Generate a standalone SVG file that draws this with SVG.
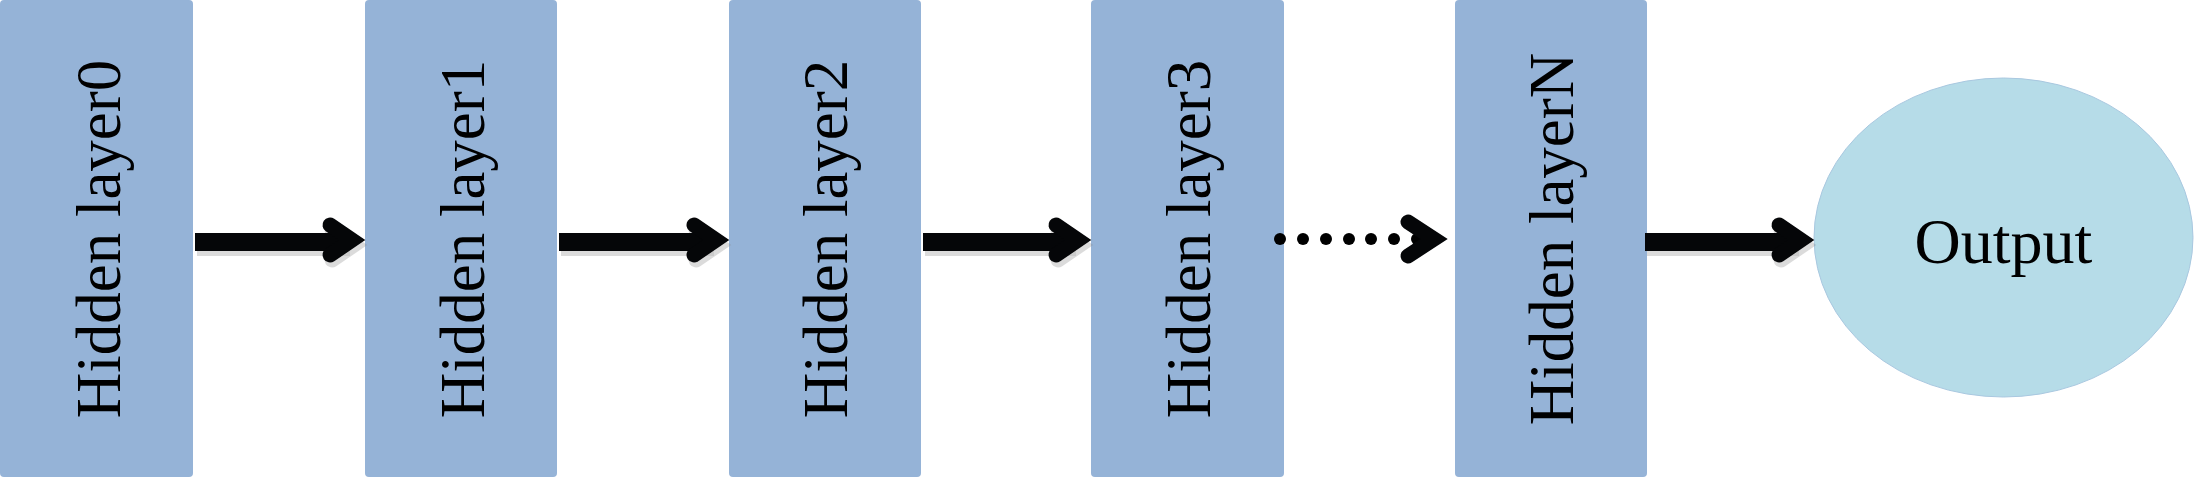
<svg xmlns="http://www.w3.org/2000/svg" width="2195" height="481" viewBox="0 0 2195 481">
<style>
.box{fill:#95b3d7;}
.lbl{font-family:"Liberation Serif","Times New Roman",serif;font-size:63px;fill:#000;text-anchor:middle;}
.shaft{stroke:#050608;stroke-width:18;fill:none;}
.head{stroke:#050608;stroke-width:15;fill:none;stroke-linecap:round;stroke-linejoin:miter;}
.sh{stroke:#888;opacity:0.55;}
.dot{fill:#000;}
</style>
<rect width="2195" height="481" fill="#fff"/>
<g id="node-h0"><rect class="box" x="0" y="0" width="193" height="477" rx="4"/><text class="lbl" transform="translate(120,239) rotate(-90)">Hidden layer0</text></g>
<g id="node-h1"><rect class="box" x="365" y="0" width="192" height="477" rx="4"/><text class="lbl" transform="translate(484,239) rotate(-90)">Hidden layer1</text></g>
<g id="node-h2"><rect class="box" x="729" y="0" width="192" height="477" rx="4"/><text class="lbl" transform="translate(847,239) rotate(-90)">Hidden layer2</text></g>
<g id="node-h3"><rect class="box" x="1091" y="0" width="193" height="477" rx="4"/><text class="lbl" transform="translate(1210,239) rotate(-90)">Hidden layer3</text></g>
<g id="node-hN"><rect class="box" x="1455" y="0" width="192" height="477" rx="4"/><text class="lbl" transform="translate(1573,239) rotate(-90)">Hidden layerN</text></g>
<g id="node-out"><ellipse cx="2003.5" cy="237.5" rx="189.5" ry="159.5" fill="#b6dce8" stroke="#a9c8e0" stroke-width="1"/><text x="2003.5" y="263" class="lbl" style="font-size:64px">Output</text></g>
<g id="connectors">
<g class="sh" transform="translate(2,5)">
<line class="shaft sh" x1="195" y1="242" x2="348" y2="242"/><polyline class="head sh" points="330,225 352,240 330,255"/>
<line class="shaft sh" x1="559" y1="242" x2="712" y2="242"/><polyline class="head sh" points="694,225 716,240 694,255"/>
<line class="shaft sh" x1="923" y1="242" x2="1074" y2="242"/><polyline class="head sh" points="1056,225 1078,240 1056,255"/>
<line class="shaft sh" x1="1645" y1="242" x2="1797" y2="242"/><polyline class="head sh" points="1779,225 1801,240 1779,255"/>
</g>
<line class="shaft" x1="195" y1="242" x2="346" y2="242"/><polyline class="head" points="330,225 352,240 330,255"/>
<line class="shaft" x1="559" y1="242" x2="710" y2="242"/><polyline class="head" points="694,225 716,240 694,255"/>
<line class="shaft" x1="923" y1="242" x2="1072" y2="242"/><polyline class="head" points="1056,225 1078,240 1056,255"/>
<line class="shaft" x1="1645" y1="242" x2="1795" y2="242"/><polyline class="head" points="1779,225 1801,240 1779,255"/>
<g id="dotted">
<circle class="dot" cx="1280" cy="239" r="6"/><circle class="dot" cx="1303" cy="239" r="6"/><circle class="dot" cx="1326" cy="239" r="6"/><circle class="dot" cx="1349" cy="239" r="6"/><circle class="dot" cx="1371" cy="239" r="6"/><circle class="dot" cx="1394" cy="239" r="6"/><circle class="dot" cx="1417" cy="239" r="6"/>
<polyline class="head" points="1408,222 1434,239 1408,256"/>
</g>
</g>
</svg>
